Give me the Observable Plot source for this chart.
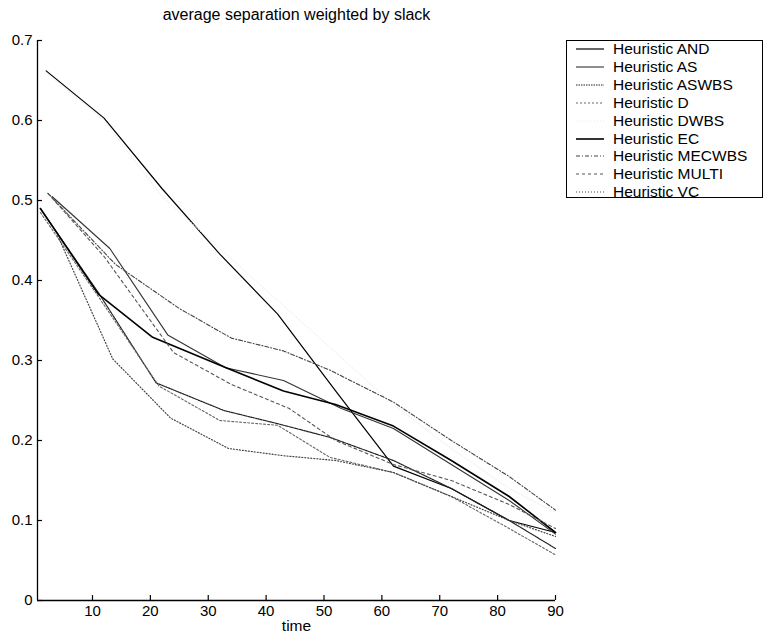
<!DOCTYPE html>
<html><head><meta charset="utf-8">
<script src="https://cdn.jsdelivr.net/npm/d3@7"></script>
<script src="https://cdn.jsdelivr.net/npm/@observablehq/plot@0.6"></script>
<style>
body{margin:0;background:#fff;font-family:"Liberation Sans",Arial,sans-serif}
#wrap{position:relative;width:764px;height:636px;overflow:hidden}
#legend{position:absolute;left:566px;top:40px;width:197px;height:158px;border:1px solid #000;box-sizing:border-box;background:#fff}
#legend .row{position:absolute;left:0;height:18px;display:flex;align-items:center;font-size:15.5px;color:#000;white-space:nowrap}
#legend svg{margin-left:9px;margin-right:9px}
</style></head><body><div id="wrap"><div id="legend"></div></div>
<script>
const title = "average separation weighted by slack";
const xLabel = "time";
const seriesNames = ["Heuristic AND","Heuristic AS","Heuristic ASWBS","Heuristic D","Heuristic DWBS","Heuristic EC","Heuristic MECWBS","Heuristic MULTI","Heuristic VC"];
const seriesTimes = [
  [2, 12, 22, 32, 42, 52, 62, 72, 82, 90],
  [3, 13, 23, 33, 43, 53, 62, 72, 82, 90],
  [1, 11, 21, 32.7, 42, 51, 62, 72, 82, 90],
  [1, 11, 21.5, 32, 42, 51, 62, 72, 82, 90],
  [2, 12, 22, 32, 42, 52, 62, 72, 82, 90],
  [1, 11, 20.4, 33.4, 43, 52, 62, 72, 82, 90],
  [2.3, 14, 25, 34, 43, 51, 62, 72, 82, 90],
  [2.3, 12, 24, 34, 44, 52, 62, 72, 82, 90],
  [4, 13.5, 23.5, 33.5, 43, 52, 62, 72, 82, 90]
];
const seriesValues = [
  [0.662, 0.603, 0.515, 0.433, 0.358, 0.262, 0.168, 0.14, 0.1, 0.085],
  [0.505, 0.44, 0.332, 0.291, 0.275, 0.24, 0.215, 0.17, 0.125, 0.083],
  [0.49, 0.385, 0.272, 0.2375, 0.221, 0.204, 0.175, 0.14, 0.1, 0.065],
  [0.485, 0.38, 0.268, 0.225, 0.219, 0.179, 0.16, 0.13, 0.09, 0.057],
  [0.66, 0.6, 0.505, 0.44, 0.375, 0.31, 0.245, 0.19, 0.14, 0.11],
  [0.49, 0.383, 0.329, 0.29, 0.262, 0.245, 0.218, 0.175, 0.13, 0.085],
  [0.509, 0.42, 0.365, 0.328, 0.312, 0.288, 0.248, 0.2, 0.155, 0.113],
  [0.509, 0.43, 0.31, 0.27, 0.24, 0.2, 0.17, 0.15, 0.12, 0.09],
  [0.456, 0.302, 0.228, 0.19, 0.181, 0.175, 0.16, 0.13, 0.1, 0.08]
];
const xTicks = [10, 20, 30, 40, 50, 60, 70, 80, 90];
const yTicks = [0, 0.1, 0.2, 0.3, 0.4, 0.5, 0.6, 0.7];
const xDomain = [0.5, 90];
const yDomain = [0, 0.7];

// styles
const lineColors = ["#000","#333","#222","#666","#ececec","#000","#444","#555","#444"];
const lineDashes = [null,null,"1.5,1","2,2","1,2",null,"4,2,1,2","3,3","1,2"];
const lineWidths = [1.2,1.1,1.2,1.1,1,1.6,1.1,1.1,1.2];

const rows = seriesNames.flatMap((name, i) => seriesTimes[i].map((t, j) => ({name, i, t, v: seriesValues[i][j]})));

const W = 764, H = 636, mL = 37, mR = 209, mT = 40, mB = 36, tickLen = 5;
const frameW = W - mL - mR, frameH = H - mT - mB;

const chart = Plot.plot({
  width: W, height: H,
  marginLeft: mL, marginRight: mR, marginTop: mT, marginBottom: mB,
  style: {fontFamily: "'Liberation Sans', Arial, sans-serif", fontSize: "15px", color: "#000", background: "transparent"},
  x: {domain: xDomain, label: null},
  y: {domain: yDomain, label: null},
  marks: [
    Plot.axisX({ticks: xTicks, tickSize: 0, tickPadding: 5, tickFormat: d => String(d), label: null, fontSize: 15}),
    Plot.axisY({ticks: yTicks, tickSize: 0, tickPadding: 5, tickFormat: d => String(d), label: null, fontSize: 15}),
    Plot.tickX(xTicks, {x: d => d, insetTop: frameH - tickLen, stroke: "#000", strokeWidth: 1.2}),
    Plot.tickY(yTicks, {y: d => d, insetRight: frameW - tickLen, stroke: "#000", strokeWidth: 1.2}),
    ...seriesNames.map((name, i) => Plot.line(rows.filter(r => r.i === i), {
      x: "t", y: "v", stroke: lineColors[i], strokeDasharray: lineDashes[i], strokeWidth: lineWidths[i]
    })),
    Plot.ruleY([yDomain[0]], {stroke: "#000", strokeWidth: 1.3}),
    Plot.ruleX([xDomain[0]], {stroke: "#000", strokeWidth: 1.3}),
    Plot.text([title], {frameAnchor: "top", dy: -32, fontSize: 16, text: d => d}),
    Plot.text([xLabel], {frameAnchor: "bottom", dy: 30, fontSize: 15.5, text: d => d})
  ]
});
chart.style.position = "absolute";
chart.style.left = "0";
chart.style.top = "0";
const wrap = document.getElementById("wrap");
wrap.insertBefore(chart, wrap.firstChild);

const legend = document.getElementById("legend");
seriesNames.forEach((name, i) => {
  const row = document.createElement("div");
  row.className = "row";
  row.style.top = (-1 + 17.9 * i) + "px";
  const ns = "http://www.w3.org/2000/svg";
  const svg = document.createElementNS(ns, "svg");
  svg.setAttribute("width", 28); svg.setAttribute("height", 4);
  const ln = document.createElementNS(ns, "line");
  ln.setAttribute("x1", 0); ln.setAttribute("x2", 28); ln.setAttribute("y1", 2); ln.setAttribute("y2", 2);
  ln.setAttribute("stroke", lineColors[i]);
  ln.setAttribute("stroke-width", lineWidths[i]);
  if (lineDashes[i]) ln.setAttribute("stroke-dasharray", lineDashes[i]);
  svg.appendChild(ln);
  row.appendChild(svg);
  const span = document.createElement("span");
  span.textContent = name;
  row.appendChild(span);
  legend.appendChild(row);
});
</script>
</body></html>
